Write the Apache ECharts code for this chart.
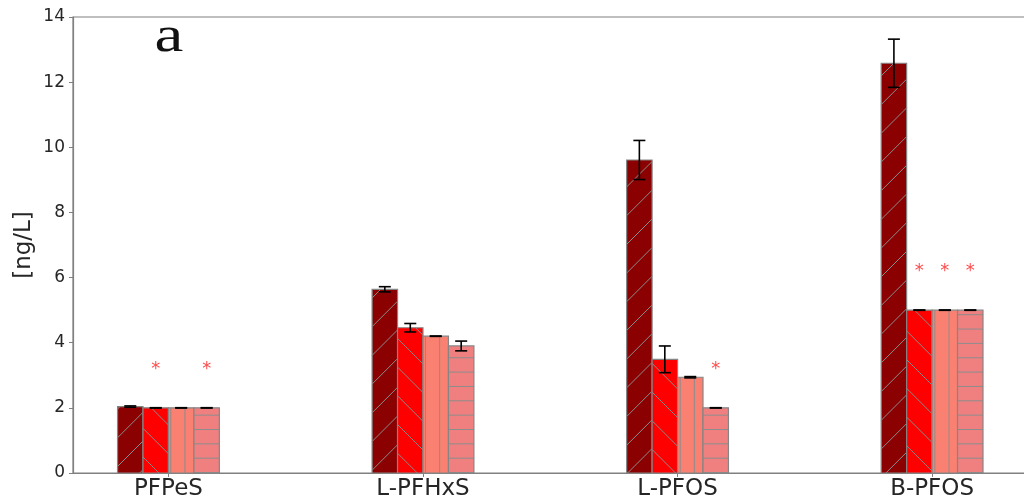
<!DOCTYPE html>
<html>
<head>
<meta charset="utf-8">
<script src="https://cdn.jsdelivr.net/npm/echarts@6/dist/echarts.min.js"></script>
<style>
  html, body { margin: 0; padding: 0; background: #fff; }
  #chart { width: 1024px; height: 502px; }
</style>
</head>
<body>
<div id="chart"></div>
<script>
// Compounds along the x axis
const categories = ['PFPeS', 'L-PFHxS', 'L-PFOS', 'B-PFOS'];

// Concentrations (ng/L) and their error half-widths for the four sample sets
const values1 = [2.04, 5.64, 9.61, 12.58];
const errors1 = [0.02, 0.08, 0.60, 0.74];
const values2 = [2.00, 4.46, 3.49, 5.00];
const errors2 = [0.005, 0.13, 0.41, 0.005];
const values3 = [2.00, 4.20, 2.94, 5.00];
const errors3 = [0.005, 0.005, 0.02, 0.005];
const values4 = [2.00, 3.90, 2.00, 5.00];
const errors4 = [0.005, 0.15, 0.005, 0.005];

// 1 = value flagged with an asterisk above the bar
const marked1 = [0, 0, 0, 0];
const marked2 = [1, 0, 0, 1];
const marked3 = [0, 0, 0, 1];
const marked4 = [1, 0, 1, 1];

// y axis range
const yMin = 0, yMax = 14, yStep = 2;

const EDGE = '#858585';
const HATCH = '#8c8c8c';

// Hatch line segments inside a pixel rectangle
function hatchSegments(kind, L, T, R, B) {
  const segs = [];
  if (kind === '/') {
    const p = 28.7, ph = 10;
    let c = Math.floor((L + T - ph) / p) * p + ph;
    for (; c <= R + B + p; c += p) {
      const x1 = Math.max(L, c - B), x2 = Math.min(R, c - T);
      if (x2 > x1) segs.push([x1, c - x1, x2, c - x2]);
    }
  } else if (kind === '\\') {
    const p = 28.7, ph = 27;
    let c = Math.floor((T - R - ph) / p) * p + ph;
    for (; c <= B - L + p; c += p) {
      const x1 = Math.max(L, T - c), x2 = Math.min(R, B - c);
      if (x2 > x1) segs.push([x1, x1 + c, x2, x2 + c]);
    }
  } else if (kind === '|') {
    const p = 14.15, ph = 1;
    let x = Math.ceil((L - ph) / p) * p + ph;
    for (; x < R; x += p) if (x > L + 0.5) segs.push([x, T, x, B]);
  } else if (kind === '-') {
    const p = 14.35, ph = -1;
    let y = Math.ceil((T - ph) / p) * p + ph;
    for (; y < B; y += p) if (y > T + 0.5) segs.push([L, y, R, y]);
  }
  return segs;
}

function makeSeries(name, values, errors, marks, offset, color, hatch) {
  const halfW = 0.05;
  return {
    name: name,
    type: 'custom',
    data: values.map((v, i) => [i, v, errors[i], marks[i]]),
    renderItem: function (params, api) {
      const xc = api.value(0) + offset;
      const v = api.value(1), e = api.value(2), m = api.value(3);
      const tl = api.coord([xc - halfW, v]);
      const br = api.coord([xc + halfW, 0]);
      const L = tl[0], T = tl[1], R = br[0], B = br[1];
      const children = [];
      children.push({
        type: 'rect',
        shape: { x: L, y: T, width: R - L, height: B - T },
        style: { fill: color, stroke: null }
      });
      hatchSegments(hatch, L, T, R, B).forEach(s => {
        children.push({
          type: 'line',
          shape: { x1: s[0], y1: s[1], x2: s[2], y2: s[3] },
          style: { stroke: HATCH, lineWidth: 1 }
        });
      });
      children.push({
        type: 'rect',
        shape: { x: L, y: T, width: R - L, height: B - T },
        style: { fill: null, stroke: EDGE, lineWidth: 1.2 }
      });
      // error bar with caps
      const hi = api.coord([xc, v + e]);
      const lo = api.coord([xc, v - e]);
      const cap = 6;
      children.push({
        type: 'line',
        shape: { x1: hi[0], y1: hi[1], x2: lo[0], y2: lo[1] },
        style: { stroke: '#000', lineWidth: 1.6 }
      });
      children.push({
        type: 'line',
        shape: { x1: hi[0] - cap, y1: hi[1], x2: hi[0] + cap, y2: hi[1] },
        style: { stroke: '#000', lineWidth: 1.6 }
      });
      children.push({
        type: 'line',
        shape: { x1: lo[0] - cap, y1: lo[1], x2: lo[0] + cap, y2: lo[1] },
        style: { stroke: '#000', lineWidth: 1.6 }
      });
      if (m) {
        const sp = api.coord([xc, v + 1.18]);
        children.push({
          type: 'text',
          x: sp[0], y: sp[1],
          style: {
            text: '*', fill: '#ff2a2a', opacity: 0.85,
            font: '18px "DejaVu Sans"', align: 'center', verticalAlign: 'middle'
          }
        });
      }
      return { type: 'group', children: children };
    }
  };
}

const chart = echarts.init(document.getElementById('chart'), null, { renderer: 'canvas' });

chart.setOption({
  animation: false,
  backgroundColor: '#fff',
  grid: {
    left: 73, top: 17, width: 952, height: 456,
    outerBoundsMode: 'none',
    show: true, borderColor: '#808080', borderWidth: 1.2, backgroundColor: 'transparent'
  },
  xAxis: {
    type: 'value',
    min: -0.375, max: 3.365,
    axisLine: { show: true, onZero: false, lineStyle: { color: '#808080', width: 1.2 } },
    axisTick: { show: true, length: 4, lineStyle: { color: '#808080' }, customValues: [0, 1, 2, 3] },
    axisLabel: {
      customValues: [0, 1, 2, 3],
      formatter: v => categories[Math.round(v)],
      fontFamily: 'DejaVu Sans', fontSize: 23, color: '#262626', margin: 5
    },
    splitLine: { show: false }
  },
  yAxis: {
    type: 'value',
    min: yMin, max: yMax, interval: yStep,
    name: '[ng/L]', nameLocation: 'middle', nameRotate: 90, nameGap: 37,
    nameMoveOverlap: false,
    nameTextStyle: { fontFamily: 'DejaVu Sans', fontSize: 23, color: '#262626' },
    axisLine: { show: true, onZero: false, lineStyle: { color: '#808080', width: 1.2 } },
    axisTick: { show: true, length: 4, lineStyle: { color: '#808080' } },
    axisLabel: { fontFamily: 'DejaVu Sans', fontSize: 17, color: '#262626', margin: 8 },
    splitLine: { show: false }
  },
  graphic: [{
    type: 'text',
    x: 169, y: 13,
    scaleX: 1.3,
    style: {
      text: 'a', font: '50px "Liberation Serif"', fill: '#111',
      align: 'center', verticalAlign: 'top'
    }
  }],
  series: [
    makeSeries('set1', values1, errors1, marked1, -0.15, '#8b0000', '/'),
    makeSeries('set2', values2, errors2, marked2, -0.05, '#ff0000', '\\'),
    makeSeries('set3', values3, errors3, marked3, 0.05, '#fa8072', '|'),
    makeSeries('set4', values4, errors4, marked4, 0.15, '#f08080', '-')
  ]
});
</script>
</body>
</html>
